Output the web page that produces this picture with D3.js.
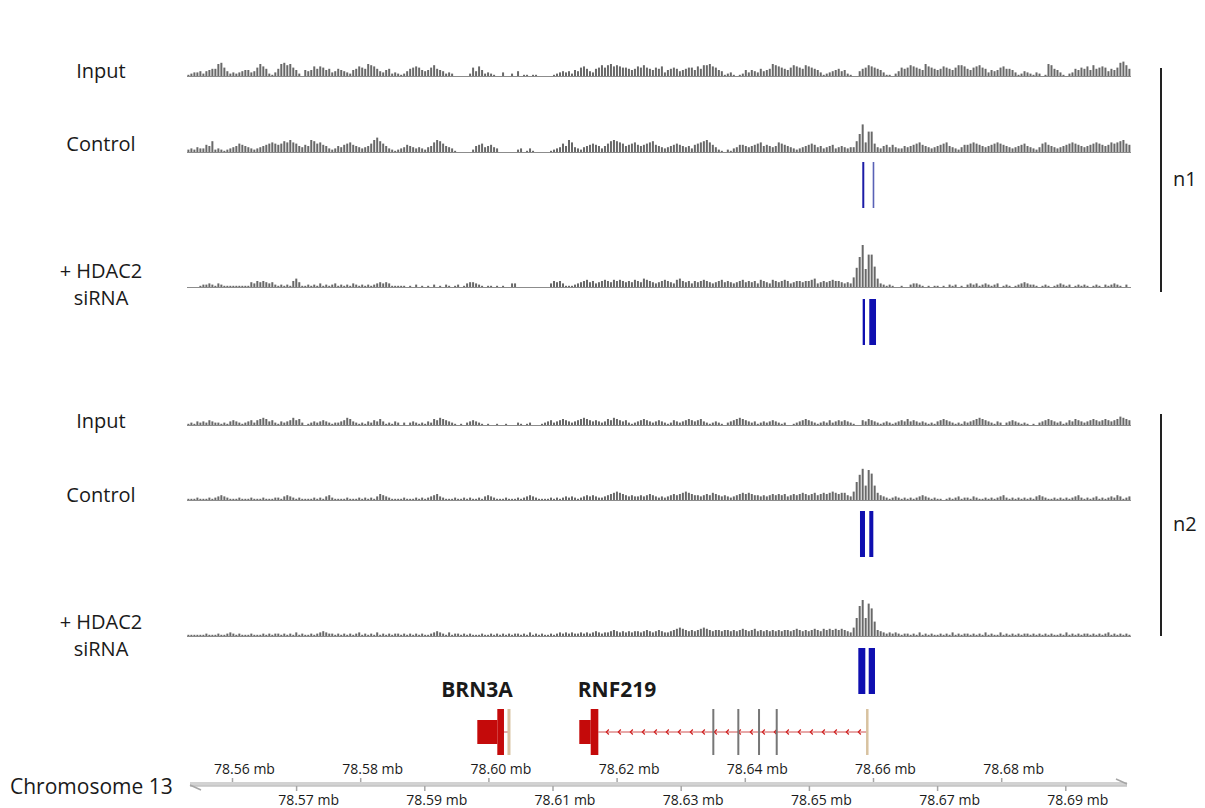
<!DOCTYPE html>
<html>
<head>
<meta charset="utf-8">
<script src="https://cdn.jsdelivr.net/npm/d3@7"></script>
<style>
  body { margin: 0; background: #fff; }
  text { font-family: 'Open Sans', sans-serif; fill: #1a1a1a; }
</style>
</head>
<body>
<div id="chart"></div>
<script>
// visible window on chromosome 13 (mb)
const viewStart = 78.55298;
const viewEnd = 78.70025;

const upperTicks = [78.56, 78.58, 78.60, 78.62, 78.64, 78.66, 78.68];
const lowerTicks = [78.57, 78.59, 78.61, 78.63, 78.65, 78.67, 78.69];

// coverage per bin, one char per bin (base 36, 0-9 then a-z)
const bins = s => s.replace(/\s/g, '').split('').map(c => parseInt(c, 36));

const input1 = bins(`1233424566 ab74232345 5347a86213 6ab9a75205 4586875634 6543256876 a986435623 2124678754
  5796542320 0000274852 3210030020 4011011000 0012343425 4786436797 9a89877656 8797657683 5676456775 8699a87541
  2310125354 36456a9876 5798769876 5312345645 2100467987 6531102476 798765a876 5687657998 6578976354 5786653124
  3213201a96 5310236576 8596787465 7bc96`);

const control1 = bins(`2324336592 3212345765 4323456787 6798a87546 5a97865323 5467865434 57ac975321 2346543432
  458a975431 0000025674 5643000000 2301310000 0123475a84 3245676535 79a9875678 6567896543 4567654536 789a864210
  2134665456 7856545876 5432345676 4534563454 3449fn8hh7 4356464335 4567865434 5678543246 6787654567 8765434567
  5432478654 3456787654 5678765687 89a76`);

const hdac1 = bins(`0000122321 3211111111 1435454342 1212157411 2121312123 1212132121 2123434311 1110102010
  1020102101 2013443210 1101010033 0000000000 0354531112 3456453456 5465654546 5476543456 5436754535 4565434564
  5434564545 3654365456 5345545567 3454565543 438gpzfrrh 7321210010 0233210101 1010212010 2323123212 3012101234
  3221012101 2321201212 1012102123 21020`);

const input2 = bins(`1213232432 2121343212 3424565342 1323464520 1232343212 2346532121 3243531213 2020232121
  3254654321 0102343210 1001001000 2101200012 3423454323 4565434323 5465434212 3454323432 1243234543 4532123210
  2345654323 1232343212 0012345432 1232423434 3210043543 2123212343 5343232121 3454321213 2345654321 3202343212
  1010234543 2312435432 3454345434 57654`);

const control2 = bins(`1112111212 3432111211 1211121112 2134321211 1121213421 1112111212 1213543211 1121112121
  2345321112 1121211213 4321112111 2123432111 1212123232 1234343223 4567654343 3434543232 3454567654 4345465434
  3234565654 4343454545 3454565456 4565676566 437flqcpmc 6432123212 1212343212 1101212312 2132112121 2342121212
  1213432112 1212123421 2123121232 43123`);

const hdac2 = bins(`1111112111 2112321211 1211121212 2121213121 1212343221 2121212312 1213121212 2121212121
  1234321312 2121211121 1212121212 2121312121 1212323232 2323234323 3454343434 4345434543 3456765454 5676545545
  5454565456 4545454545 5456545456 5465656565 437fpufrnc 5432323212 2121312121 1212131212 2121213121 1312121212
  2121212121 1213121212 2121212312 12121`);

// called peaks (mb)
const peaksControl1 = [[78.65833, 78.65864], [78.65995, 78.66020]];
const peaksHdac1 = [[78.65839, 78.65875], [78.65942, 78.66047]];
const peaksControl2 = [[78.65797, 78.65875], [78.65942, 78.66005]];
const peaksHdac2 = [[78.65771, 78.65880], [78.65933, 78.66031]];

// gene models (mb), both on the minus strand
const geneNames = ['BRN3A', 'RNF219'];
const brn3aUtr = [78.59827, 78.60139];
const brn3aCds = [78.60139, 78.60243];
const brn3aTss = 78.60321;
const rnf219Utr = [78.61418, 78.61596];
const rnf219Cds = [78.61596, 78.61715];
const rnf219Intron = [78.61715, 78.65902];
const rnf219Exons = [78.63509, 78.63899, 78.64222, 78.64498];
const rnf219Tss = 78.65911;

const width = 1205, height = 808;

const svg = d3.select('#chart').append('svg')
  .attr('width', width)
  .attr('height', height);

const x = d3.scaleLinear().domain([viewStart, viewEnd]).range([187, 1131]);
// one unit of coverage ~ 1.2px
const y = d3.scaleLinear().domain([0, 36]).range([0, 43.2]);

const tracks = [
  { data: input1, base: 76 },
  { data: control1, base: 152, peaks: peaksControl1, peakY: [162, 208], peakFill: ['#1c1ca6', '#5a62b6'] },
  { data: hdac1, base: 287, peaks: peaksHdac1, peakY: [299, 345] },
  { data: input2, base: 425 },
  { data: control2, base: 500, peaks: peaksControl2, peakY: [511, 557] },
  { data: hdac2, base: 636, peaks: peaksHdac2, peakY: [648, 694] }
];

tracks.forEach(t => {
  const g = svg.append('g');
  const step = (viewEnd - viewStart) / t.data.length;
  const bw = x(viewStart + step) - x(viewStart);

  // baseline
  g.append('line')
    .attr('x1', x(viewStart)).attr('x2', x(viewEnd))
    .attr('y1', t.base + 0.5).attr('y2', t.base + 0.5)
    .attr('stroke', '#8c8c8c')
    .attr('stroke-width', 1);

  g.selectAll('rect.cov')
    .data(t.data)
    .join('rect')
    .attr('class', 'cov')
    .attr('x', (d, i) => x(viewStart + i * step) + 0.4)
    .attr('width', bw - 1)
    .attr('y', d => t.base - y(d))
    .attr('height', d => y(d))
    .attr('fill', '#696969');

  if (t.peaks) {
    g.selectAll('rect.peak')
      .data(t.peaks)
      .join('rect')
      .attr('class', 'peak')
      .attr('x', d => x(d[0]))
      .attr('width', d => Math.max(1.5, x(d[1]) - x(d[0])))
      .attr('y', t.peakY[0])
      .attr('height', t.peakY[1] - t.peakY[0])
      .attr('fill', (d, i) => t.peakFill ? t.peakFill[i] : '#0f0fb0');
  }
});

// track labels
const labels = [
  ['Input', 70], ['Control', 143], ['+ HDAC2', 270], ['siRNA', 297],
  ['Input', 420], ['Control', 494], ['+ HDAC2', 621], ['siRNA', 648]
];
svg.append('g').selectAll('text')
  .data(labels)
  .join('text')
  .attr('x', 101)
  .attr('y', d => d[1])
  .attr('text-anchor', 'middle')
  .attr('dominant-baseline', 'central')
  .style('font-size', '20px')
  .text(d => d[0]);

// replicate brackets
[['n1', 68, 292], ['n2', 414, 636]].forEach(b => {
  svg.append('line')
    .attr('x1', 1161).attr('x2', 1161)
    .attr('y1', b[1]).attr('y2', b[2])
    .attr('stroke', '#222')
    .attr('stroke-width', 2);
  svg.append('text')
    .attr('x', 1173)
    .attr('y', (b[1] + b[2]) / 2 - 2)
    .attr('dominant-baseline', 'central')
    .style('font-size', '20px')
    .text(b[0]);
});

// gene models
const gene = svg.append('g');
const red = '#c40a0a';
const tallY = [709, 755], shortY = [720, 744], midY = 732;

function block(r, yy, fill) {
  gene.append('rect')
    .attr('x', x(r[0]))
    .attr('width', x(r[1]) - x(r[0]))
    .attr('y', yy[0])
    .attr('height', yy[1] - yy[0])
    .attr('fill', fill);
}
function tick(pos, fill, w) {
  gene.append('rect')
    .attr('x', x(pos) - w / 2)
    .attr('width', w)
    .attr('y', tallY[0])
    .attr('height', tallY[1] - tallY[0])
    .attr('fill', fill);
}

// BRN3A
gene.append('line')
  .attr('x1', x(brn3aCds[1])).attr('x2', x(brn3aTss))
  .attr('y1', midY).attr('y2', midY)
  .attr('stroke', '#c85a5a').attr('stroke-width', 1);
block(brn3aUtr, shortY, red);
block(brn3aCds, tallY, red);
tick(brn3aTss, '#d8c2a0', 3);

// RNF219
gene.append('line')
  .attr('x1', x(rnf219Intron[0])).attr('x2', x(rnf219Intron[1]))
  .attr('y1', midY).attr('y2', midY)
  .attr('stroke', '#d05050').attr('stroke-width', 1);

// strand chevrons along the intron
const chevStep = 12 / 6410;
const chevs = d3.range(rnf219Intron[0] + 8 / 6410, rnf219Intron[1] - 2 / 6410, chevStep);
gene.selectAll('path.chev')
  .data(chevs)
  .join('path')
  .attr('class', 'chev')
  .attr('d', d => `M${x(d) + 2.5},${midY - 2.5} L${x(d)},${midY} L${x(d) + 2.5},${midY + 2.5}`)
  .attr('fill', 'none')
  .attr('stroke', '#d02020')
  .attr('stroke-width', 1.2);

block(rnf219Utr, shortY, red);
block(rnf219Cds, tallY, red);
rnf219Exons.forEach(e => tick(e, '#777', 2));
tick(rnf219Tss, '#d8c2a0', 2.5);

gene.selectAll('text')
  .data(geneNames)
  .join('text')
  .attr('x', (d, i) => [477, 617][i])
  .attr('y', 689)
  .attr('text-anchor', 'middle')
  .attr('dominant-baseline', 'central')
  .style('font-size', '21px')
  .style('font-weight', 'bold')
  .text(d => d);

// chromosome axis
const axisY = 784;
const ax = svg.append('g');
ax.append('rect')
  .attr('x', 190).attr('width', 1127 - 190)
  .attr('y', axisY - 2).attr('height', 3.5)
  .attr('fill', '#d2d2d2');
ax.append('line')
  .attr('x1', 190).attr('x2', 1127)
  .attr('y1', axisY + 2).attr('y2', axisY + 2)
  .attr('stroke', '#a6a6a6').attr('stroke-width', 1);
ax.append('path')
  .attr('d', `M1127,${axisY} L1116,${axisY - 5}`)
  .attr('stroke', '#a6a6a6').attr('stroke-width', 1.5).attr('fill', 'none');
ax.append('path')
  .attr('d', `M190,${axisY + 1} L201,${axisY + 6}`)
  .attr('stroke', '#a6a6a6').attr('stroke-width', 1.5).attr('fill', 'none');

const fmt = d => d3.format('.2f')(d) + ' mb';

const axisTopG = svg.append('g')
  .attr('transform', `translate(0, ${axisY - 2})`)
  .call(d3.axisTop(x).tickValues(upperTicks).tickSize(4).tickFormat(fmt));
const axisBottomG = svg.append('g')
  .attr('transform', `translate(0, ${axisY + 2})`)
  .call(d3.axisBottom(x).tickValues(lowerTicks).tickSize(5).tickFormat(fmt));

[axisTopG, axisBottomG].forEach(a => {
  a.select('.domain').remove();
  a.selectAll('.tick line').attr('stroke', '#a6a6a6').attr('stroke-width', 1.5);
  a.selectAll('.tick text')
    .attr('dx', 12)
    .style('font-size', '14px')
    .style('font-family', "'Open Sans', sans-serif")
    .attr('fill', '#222');
});
axisTopG.selectAll('.tick text').attr('y', -8);
axisBottomG.selectAll('.tick text').attr('y', 9);

svg.append('text')
  .attr('x', 10)
  .attr('y', 786)
  .attr('dominant-baseline', 'central')
  .style('font-size', '21px')
  .text('Chromosome 13');
</script>
</body>
</html>
